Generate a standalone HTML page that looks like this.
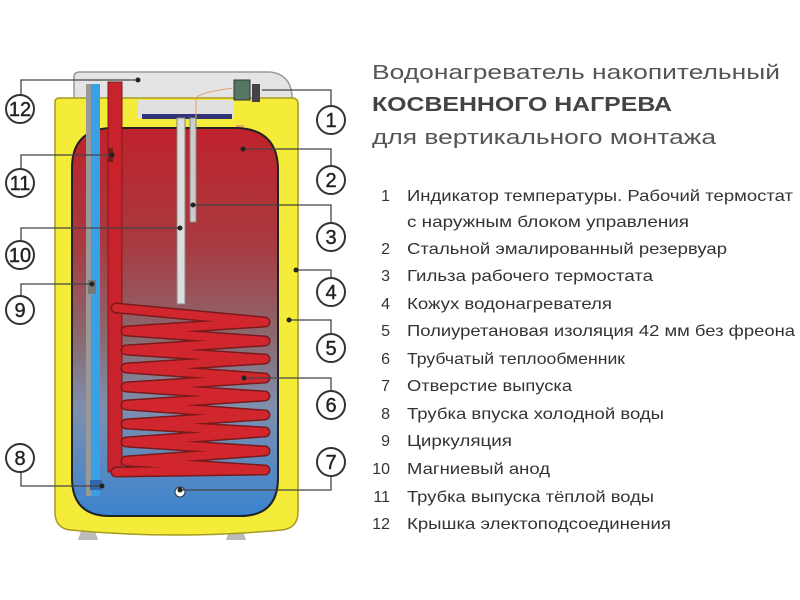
<!DOCTYPE html>
<html><head><meta charset="utf-8"><style>
html,body{margin:0;padding:0;background:#fff;}
svg{display:block}
text{font-family:"Liberation Sans","DejaVu Sans",sans-serif;}
</style></head><body>
<svg width="800" height="600" viewBox="0 0 800 600" xmlns="http://www.w3.org/2000/svg">
<defs>
<linearGradient id="w" x1="0" y1="0" x2="0" y2="1">
<stop offset="0" stop-color="#c0222c"/>
<stop offset="0.3" stop-color="#a83a40"/>
<stop offset="0.55" stop-color="#8a6b72"/>
<stop offset="0.72" stop-color="#7e8fae"/>
<stop offset="1" stop-color="#3a84d0"/>
</linearGradient>
</defs>
<path d="M78 540 l4 -12 h12 l4 12 z" fill="#bbb"/>
<path d="M226 540 l4 -12 h12 l4 12 z" fill="#bbb"/>
<path d="M74 100 V77 Q74 72 80 72 H270 Q290 74 292 95 V100 Z" fill="#e4e4e6" stroke="#999" stroke-width="1.5"/>
<path d="M55 102 Q55 98 60 98 H292 Q298 98 298 104 V512 Q298 528 282 530 Q175 540 70 530 Q55 528 55 512 Z" fill="#f5ec3a" stroke="#a59b20" stroke-width="1.5"/>
<rect x="138" y="100" width="96" height="18" fill="#e0e0e2"/>
<rect x="142" y="114" width="90" height="5" fill="#333377"/>
<path d="M72 168 Q72 130 110 128 H238 Q278 130 278 170 V478 Q278 516 240 516 H110 Q72 516 72 478 Z" fill="url(#w)" stroke="#222" stroke-width="2"/>
<rect x="86" y="84" width="14" height="412" fill="#999"/>
<rect x="91" y="84" width="9" height="412" fill="#3aa0e6"/>
<rect x="90" y="480" width="12" height="10" fill="#3366aa"/>
<rect x="88" y="280" width="8" height="14" fill="#777"/>
<rect x="108" y="82" width="14" height="390" fill="#c8222c" stroke="#7a1a1a" stroke-width="1"/>
<rect x="108" y="148" width="5" height="14" fill="#7a1a1a"/>
<rect x="177" y="118" width="8" height="186" fill="#ddd" stroke="#888"/>
<rect x="190" y="118" width="6" height="104" fill="#ccc" stroke="#888"/>
<polyline points="116,308 265,322 126,331 265,341 126,350 265,359 126,368 265,378 126,387 265,396 126,405 265,415 126,424 265,432 126,442 265,451 126,461 265,470 116,472" fill="none" stroke="#7a1a1a" stroke-width="11" stroke-linejoin="round" stroke-linecap="round"/>
<polyline points="116,308 265,322 126,331 265,341 126,350 265,359 126,368 265,378 126,387 265,396 126,405 265,415 126,424 265,432 126,442 265,451 126,461 265,470 116,472" fill="none" stroke="#d2262e" stroke-width="8" stroke-linejoin="round" stroke-linecap="round"/>
<rect x="234" y="80" width="16" height="20" fill="#557766" stroke="#333"/>
<rect x="252" y="84" width="8" height="18" fill="#444"/>
<path d="M196 118 V98 Q200 92 234 88" fill="none" stroke="#e0a070" stroke-width="1"/>
<path d="M236 126 H244" stroke="#f0a060" stroke-width="2"/>
<circle cx="180" cy="492" r="5" fill="#fff" stroke="#333"/>
<g fill="none" stroke="#444" stroke-width="1.3">
<path d="M21 95 V80 H138"/>
<path d="M21 169 V155 H112"/>
<path d="M21 241 V228 H180"/>
<path d="M21 296 V284 H92"/>
<path d="M21 472 V486 H102"/>
<path d="M331 106 V90 H262"/>
<path d="M331 166 V149 H243"/>
<path d="M331 223 V205 H193"/>
<path d="M331 278 V270 H296"/>
<path d="M331 334 V320 H289"/>
<path d="M331 391 V378 H244"/>
<path d="M331 476 V490 H180"/>
</g>
<g fill="#222">
<circle cx="138" cy="80" r="2.5"/><circle cx="112" cy="155" r="2.5"/><circle cx="180" cy="228" r="2.5"/>
<circle cx="92" cy="284" r="2.5"/><circle cx="102" cy="486" r="2.5"/><circle cx="243" cy="149" r="2.5"/>
<circle cx="193" cy="205" r="2.5"/><circle cx="296" cy="270" r="2.5"/><circle cx="289" cy="320" r="2.5"/>
<circle cx="244" cy="378" r="2.5"/><circle cx="180" cy="490" r="2.5"/>
</g>
<g fill="#fff" stroke="#333" stroke-width="2">
<circle cx="20" cy="109" r="14"/><circle cx="20" cy="183" r="14"/><circle cx="20" cy="255" r="14"/>
<circle cx="20" cy="310" r="14"/><circle cx="20" cy="458" r="14"/>
<circle cx="331" cy="120" r="14"/><circle cx="331" cy="180" r="14"/><circle cx="331" cy="237" r="14"/>
<circle cx="331" cy="292" r="14"/><circle cx="331" cy="348" r="14"/><circle cx="331" cy="405" r="14"/>
<circle cx="331" cy="462" r="14"/>
</g>
<g font-size="20" text-anchor="middle" fill="#222" stroke="#222" stroke-width="0.4">
<text x="20" y="116">12</text><text x="20" y="190">11</text><text x="20" y="262">10</text>
<text x="20" y="317">9</text><text x="20" y="465">8</text>
<text x="331" y="127">1</text><text x="331" y="187">2</text><text x="331" y="244">3</text>
<text x="331" y="299">4</text><text x="331" y="355">5</text><text x="331" y="412">6</text><text x="331" y="469">7</text>
</g>
<g fill="#555">
<text x="372" y="79" font-size="20" textLength="408" lengthAdjust="spacingAndGlyphs">Водонагреватель накопительный</text>
<text x="372" y="111" font-size="20" font-weight="bold" fill="#444" textLength="300" lengthAdjust="spacingAndGlyphs">КОСВЕННОГО НАГРЕВА</text>
<text x="372" y="144" font-size="20" textLength="344" lengthAdjust="spacingAndGlyphs">для вертикального монтажа</text>
</g>
<g font-size="16" fill="#333" text-anchor="end">
<text x="390" y="201">1</text><text x="390" y="254">2</text><text x="390" y="281">3</text>
<text x="390" y="309">4</text><text x="390" y="336">5</text><text x="390" y="364">6</text>
<text x="390" y="391">7</text><text x="390" y="419">8</text><text x="390" y="446">9</text>
<text x="390" y="474">10</text><text x="390" y="502">11</text><text x="390" y="529">12</text>
</g>
<g font-size="16" fill="#333">
<text x="407" y="201" textLength="386" lengthAdjust="spacingAndGlyphs">Индикатор температуры. Рабочий термостат</text>
<text x="407" y="227" textLength="282" lengthAdjust="spacingAndGlyphs">с наружным блоком управления</text>
<text x="407" y="254" textLength="320" lengthAdjust="spacingAndGlyphs">Стальной эмалированный резервуар</text>
<text x="407" y="281" textLength="246" lengthAdjust="spacingAndGlyphs">Гильза рабочего  термостата</text>
<text x="407" y="309" textLength="205" lengthAdjust="spacingAndGlyphs">Кожух водонагревателя</text>
<text x="407" y="336" textLength="388" lengthAdjust="spacingAndGlyphs">Полиуретановая изоляция 42 мм без фреона</text>
<text x="407" y="364" textLength="218" lengthAdjust="spacingAndGlyphs">Трубчатый теплообменник</text>
<text x="407" y="391" textLength="165" lengthAdjust="spacingAndGlyphs">Отверстие выпуска</text>
<text x="407" y="419" textLength="257" lengthAdjust="spacingAndGlyphs">Трубка впуска холодной воды</text>
<text x="407" y="446" textLength="105" lengthAdjust="spacingAndGlyphs">Циркуляция</text>
<text x="407" y="474" textLength="143" lengthAdjust="spacingAndGlyphs">Магниевый анод</text>
<text x="407" y="502" textLength="247" lengthAdjust="spacingAndGlyphs">Трубка выпуска тёплой воды</text>
<text x="407" y="529" textLength="264" lengthAdjust="spacingAndGlyphs">Крышка электоподсоединения</text>
</g>
</svg>
</body></html>
